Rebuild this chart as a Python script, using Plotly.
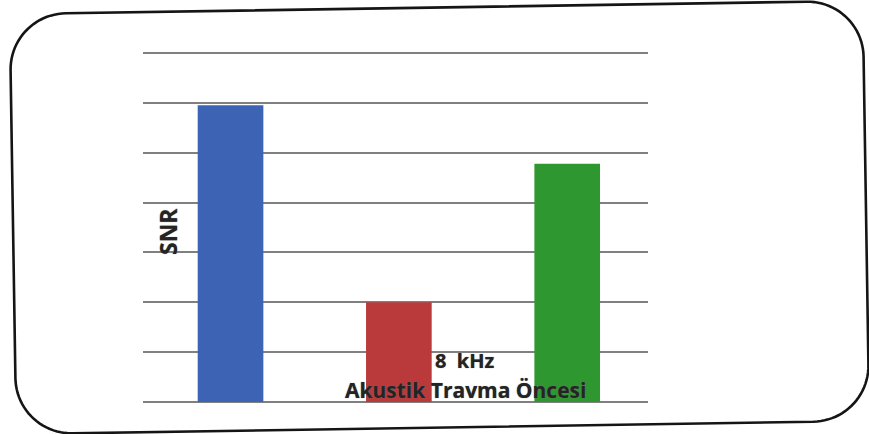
import numpy as np
import plotly.graph_objects as go

# Bar chart data: SNR at 8 kHz before acoustic trauma
categories = ["Grup 1", "Grup 2", "Grup 3"]
snr_values = [5.95, 2.0, 4.78]
bar_colors = ["#3D63B5", "#BA3A3C", "#2F972F"]

y_title = "SNR"
freq_label = "8  kHz"
group_label = "Akustik Travma Öncesi"

W, H = 869, 434


def px(x):
    return x / W


def py(y):
    return 1 - y / H


def rounded_frame(cx, cy, hw, hh, r, s, n=24):
    """Closed path (paper coords) for a slightly rotated rounded rectangle."""
    pts = []
    corners = [
        (hw - r, -hh + r, -np.pi / 2, 0),
        (hw - r, hh - r, 0, np.pi / 2),
        (-hw + r, hh - r, np.pi / 2, np.pi),
        (-hw + r, -hh + r, np.pi, 1.5 * np.pi),
    ]
    for ox, oy, a0, a1 in corners:
        for t in np.linspace(a0, a1, n):
            dx = ox + r * np.cos(t)
            dy = oy + r * np.sin(t)
            pts.append((cx + dx + s * dy, cy + dy - s * dx))
    d = "M " + " L ".join(f"{px(x):.5f},{py(y):.5f}" for x, y in pts) + " Z"
    return d


label_font = dict(family="Open Sans", color="#242424",
                  weight="bold", shadow="0px 0px 1px #777")


def label(text, x, y, size, angle=0):
    return dict(
        text=text,
        xref="paper",
        yref="paper",
        x=px(x),
        y=py(y),
        xanchor="center",
        yanchor="middle",
        textangle=angle,
        showarrow=False,
        font=dict(label_font, size=size),
    )


fig = go.Figure()
fig.add_trace(
    go.Bar(
        x=categories,
        y=snr_values,
        marker=dict(color=bar_colors, line=dict(width=0)),
        width=0.39,
        hoverinfo="skip",
    )
)

fig.update_layout(
    width=W,
    height=H,
    margin=dict(l=0, r=0, t=0, b=0),
    paper_bgcolor="white",
    plot_bgcolor="white",
    showlegend=False,
    xaxis=dict(
        domain=[px(143), px(648)],
        range=[-0.52, 2.48],
        showticklabels=False,
        showgrid=False,
        zeroline=False,
        showline=False,
        ticks="",
    ),
    yaxis=dict(
        domain=[py(404), py(51)],
        range=[-0.04, 7.04],
        dtick=1,
        showticklabels=False,
        showgrid=True,
        gridcolor="#808080",
        gridwidth=1.8,
        zeroline=False,
        showline=False,
        ticks="",
    ),
    shapes=[
        dict(
            type="path",
            xref="paper",
            yref="paper",
            path=rounded_frame(439.5, 217.5, 426.5, 210, 56, 0.0157),
            line=dict(color="#151515", width=2.6),
            layer="above",
        )
    ],
    annotations=[
        label(y_title, 168, 232, 23, angle=-90),
        label(freq_label, 465, 360, 20),
        label(group_label, 465, 390, 21),
    ],
)

fig.write_html("out.html")
